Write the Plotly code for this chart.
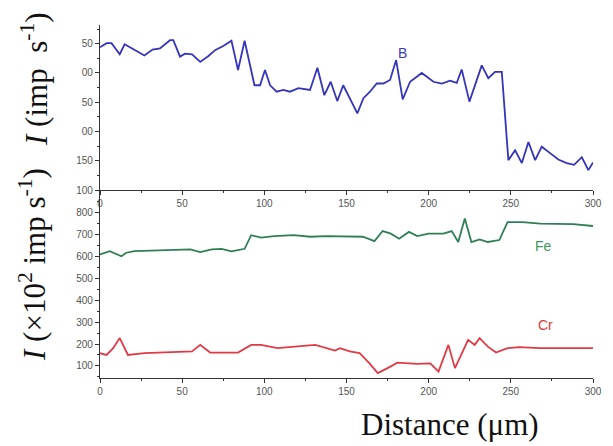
import plotly.graph_objects as go

# B profile (top panel)
b_x = [0, 4, 7, 12, 15, 27, 32, 36.5, 42.6, 44.6, 48.7, 51.7, 56, 61, 66, 70, 75, 80, 84, 88,
       94, 97.4, 100.4, 103.5, 107.5, 111.6, 115.6, 120.7, 127.8, 132.3, 136.5, 140.4, 144.4, 148,
       156.6, 160.3, 164.3, 168.4, 172.4, 176.5, 180.2, 184.2, 188.7, 195.8, 202.9, 208, 213, 217.1,
       220.1, 224.8, 232.3, 236.3, 240.4, 244.5, 248.5, 252.6, 256.7, 260.7, 264.8, 268.8, 273.9,
       278.9, 284, 288.5, 293.2, 297.2, 300]
b_y = [344, 351, 351, 332, 349, 330, 340, 342, 356, 356, 328, 333, 332, 319, 329, 339, 346, 355, 305, 355,
       279, 279, 305, 279, 268, 271, 268, 274, 271, 309, 262, 285, 252, 279,
       231, 257, 268, 282, 282, 288, 322, 255, 285, 300, 285, 282, 287, 283,
       306, 251, 313, 291, 302, 302, 151, 168, 146, 182, 151, 174, 163,
       152, 146, 143, 156, 134, 147]

# Fe profile (bottom panel)
fe_x = [0, 3, 6, 13, 16, 21, 37, 55, 61, 68, 74, 80, 88, 92, 98, 106, 118, 128, 138, 150,
        160, 167, 172, 177, 182, 188, 193, 200, 209, 214, 218, 222, 226, 231, 236, 243, 248,
        257, 268, 288, 300]
fe_y = [608, 616, 623, 600, 616, 623, 628, 631, 619, 631, 634, 622, 634, 696, 685, 692, 696, 689, 692, 692,
        689, 669, 715, 703, 680, 711, 692, 703, 703, 715, 665, 772, 665, 677, 665, 674, 756,
        756, 749, 746, 738]

# Cr profile (bottom panel)
cr_x = [0, 4, 8, 12, 17, 27, 56, 61, 67, 84, 92, 98, 108, 119, 131, 143, 146, 152, 158, 164,
        169, 175, 181, 193, 201, 206, 212, 216, 224, 228, 231, 236, 241, 248, 255, 268, 288, 300]
cr_y = [158, 150, 181, 227, 150, 158, 166, 196, 161, 161, 196, 196, 181, 188, 196, 170, 181, 166, 158, 112,
        67, 90, 115, 109, 112, 74, 196, 90, 219, 196, 227, 188, 161, 181, 186, 181, 181, 181]

top_tickvals = [100, 150, 200, 250, 300, 350]
top_ticktext = ["100", "150", "00", "50", "00", "50"]
bot_tickvals = [100, 200, 300, 400, 500, 600, 700, 800]
x_tickvals = [0, 50, 100, 150, 200, 250, 300]

fig = go.Figure()
fig.add_trace(go.Scatter(x=b_x, y=b_y, mode="lines", line=dict(color="#3434bc", width=1.8),
                         xaxis="x", yaxis="y"))
fig.add_trace(go.Scatter(x=fe_x, y=fe_y, mode="lines", line=dict(color="#2f7f55", width=1.8),
                         xaxis="x2", yaxis="y2"))
fig.add_trace(go.Scatter(x=cr_x, y=cr_y, mode="lines", line=dict(color="#e23a45", width=1.8),
                         xaxis="x2", yaxis="y2"))

tickfont = dict(family="Arial, Liberation Sans, sans-serif", size=10, color="#555")
axcommon = dict(showline=True, linecolor="#333", linewidth=1.2, ticks="outside", ticklen=4,
                tickcolor="#333", showgrid=False, zeroline=False, tickfont=tickfont)

split = (378 - 190) / 353

fig.update_layout(
    width=613, height=446,
    margin=dict(l=100, r=20, t=25, b=68),
    paper_bgcolor="white", plot_bgcolor="white",
    showlegend=False,
    xaxis=dict(domain=[0, 1], anchor="y", range=[0, 300], tickvals=x_tickvals,
               minor=dict(ticks="outside", ticklen=2, dtick=25, tickcolor="#333"), **axcommon),
    yaxis=dict(domain=[split, 1], anchor="x", range=[100, 382], tickvals=top_tickvals,
               ticktext=top_ticktext,
               minor=dict(ticks="outside", ticklen=2, dtick=25, tickcolor="#333"), **axcommon),
    xaxis2=dict(domain=[0, 1], anchor="y2", range=[0, 300], tickvals=x_tickvals,
                minor=dict(ticks="outside", ticklen=2, dtick=25, tickcolor="#333"), **axcommon),
    yaxis2=dict(domain=[0, split], anchor="x2", range=[45, 902], tickvals=bot_tickvals,
                minor=dict(ticks="outside", ticklen=2, dtick=50, tickcolor="#333"), **axcommon),
)

serif = "Liberation Serif, Times New Roman, serif"
ann = dict(xref="paper", yref="paper", showarrow=False, xanchor="center", yanchor="middle")
fig.add_annotation(text="Distance (μm)", x=(450 - 100) / 493, y=(378 - 424) / 353,
                   font=dict(family=serif, size=31, color="#111"), **ann)
fig.add_annotation(text="<i>I</i> (imp  s<sup>-1</sup>)", x=(34 - 100) / 493, y=(378 - 79) / 353,
                   textangle=-90, font=dict(family=serif, size=31, color="#111"), **ann)
fig.add_annotation(text="<i>I</i> (×10<sup>2</sup> imp s<sup>-1</sup>)",
                   x=(32 - 100) / 493, y=(378 - 265) / 353, textangle=-90,
                   font=dict(family=serif, size=31, color="#111"), **ann)

lab = "Arial, Liberation Sans, sans-serif"
fig.add_annotation(text="B", x=184, y=335, xref="x", yref="y", showarrow=False,
                   font=dict(family=lab, size=14, color="#3b3bc4"))
fig.add_annotation(text="Fe", x=270, y=645, xref="x2", yref="y2", showarrow=False,
                   font=dict(family=lab, size=14, color="#3c9a5c"))
fig.add_annotation(text="Cr", x=271, y=288, xref="x2", yref="y2", showarrow=False,
                   font=dict(family=lab, size=14, color="#d83a3a"))

fig.write_html("out.html")
